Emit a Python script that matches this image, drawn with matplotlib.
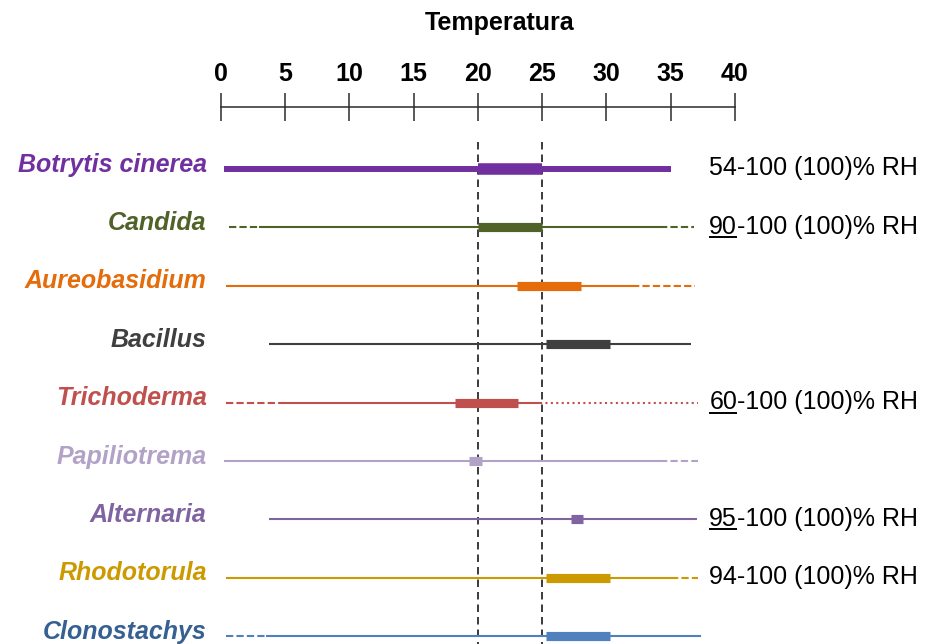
import matplotlib
matplotlib.use('Agg')
import matplotlib.pyplot as plt

plt.rcParams['font.family'] = ['Liberation Sans', 'DejaVu Sans']

# --- data ---
organisms = ['Botrytis cinerea', 'Candida', 'Aureobasidium', 'Bacillus', 'Trichoderma',
             'Papiliotrema', 'Alternaria', 'Rhodotorula', 'Clonostachys']
line_colors = ['#7030A0', '#4F6228', '#E46C0A', '#3F3F3F', '#C0504D',
               '#B3A2C7', '#8064A2', '#CC9A00', '#4F81BD']
label_colors = ['#7030A0', '#4F6228', '#E46C0A', '#3F3F3F', '#C0504D',
                '#B3A2C7', '#8064A2', '#CC9A00', '#376092']

# temperature range segments per organism (start, end, kind)
seg_start = [[0.27], [0.64, 2.98, 34.2], [0.4, 32.0], [3.7], [0.4, 5.0, 24.8],
             [0.27, 34.2], [3.7], [0.4, 35.0], [0.4, 3.5]]
seg_end = [[35.0], [2.98, 34.2, 36.8], [32.0, 36.9], [36.6], [5.0, 24.8, 37.15],
           [34.2, 37.15], [37.07], [35.0, 37.15], [3.5, 37.33]]
seg_kind = [['solid'], ['dashed', 'solid', 'dashed'], ['solid', 'dashed'], ['solid'],
            ['dashed', 'solid', 'dotted'], ['solid', 'dashed'], ['solid'],
            ['solid', 'dashed'], ['dashed', 'solid']]

# optimum temperature
opt_low = [20, 20, 23, 25.3, 18.2, 19.3, 27.2, 25.3, 25.3]
opt_high = [25, 25, 28, 30.3, 23.1, 20.3, 28.2, 30.3, 30.3]

# relative humidity
rh_min = [54, 90, None, None, 60, None, 95, 94, None]
rh_underlined = [False, True, False, False, True, False, True, False, False]

temp_ticks = [0, 5, 10, 15, 20, 25, 30, 35, 40]
band_edges = [20, 25]

# --- styles ---
dash_styles = {'solid': '-', 'dashed': (0, (3.5, 1.5)), 'dotted': (0, (1, 1.6))}
FS = 18

fig = plt.figure(figsize=(9.29, 6.44), dpi=100)
W, H = 929, 644
row_top, row_step = 169, 58.4
ax = fig.add_axes([221 / W, 0, 514 / W, 1])
ax.set_xlim(0, 40)
ax.set_ylim((H - row_top) / row_step, -row_top / row_step)

def row_of(px):
    return (px - row_top) / row_step

# top temperature axis
for s in ['left', 'right', 'bottom']:
    ax.spines[s].set_visible(False)
ax.spines['top'].set_position(('data', row_of(107)))
ax.spines['top'].set_linewidth(1.1)
ax.spines['top'].set_color('#2b2b2b')
ax.xaxis.tick_top()
ax.set_xticks(temp_ticks)
ax.set_xticklabels([str(t) for t in temp_ticks], fontweight='bold', fontsize=FS)
ax.tick_params(axis='x', direction='inout', length=20, width=1.1, color='#2b2b2b', pad=5)
ax.set_yticks([])
ax.text(21.7, row_of(30), 'Temperatura', ha='center', va='baseline',
        fontsize=FS, fontweight='bold')

# optimum band guide lines
ax.vlines(band_edges, row_of(142), row_of(H), colors='#1a1a1a',
          linestyles=[(0, (4.5, 3))], linewidth=1.2, zorder=1)

for i, name in enumerate(organisms):
    c = line_colors[i]
    lw = 4.3 if i == 0 else 1.5
    for s, e, k in zip(seg_start[i], seg_end[i], seg_kind[i]):
        ax.plot([s, e], [i, i], color=c, lw=lw, linestyle=dash_styles[k],
                solid_capstyle='butt', dash_capstyle='butt', zorder=2)
    ax.plot([opt_low[i], opt_high[i]], [i, i], color=c, lw=8.3 if i == 0 else 6.6,
            solid_capstyle='butt', zorder=3)
    ax.text(-1.11, i + 0.043, name, ha='right', va='baseline', fontsize=FS,
            fontstyle='italic', fontweight='bold', color=label_colors[i])

fig.canvas.draw()
renderer = fig.canvas.get_renderer()
for i, m in enumerate(rh_min):
    if m is None:
        continue
    y = i + 0.11
    if rh_underlined[i]:
        t1 = ax.text(38.0, y, str(m), ha='left', va='baseline', fontsize=FS)
        bb = t1.get_window_extent(renderer)
        x1 = ax.transData.inverted().transform((bb.x1, 0))[0]
        ax.plot([38.0, x1], [i + 0.17, i + 0.17], color='black', lw=1.4,
                solid_capstyle='butt', clip_on=False)
        ax.text(x1, y, '-100 (100)% RH', ha='left', va='baseline', fontsize=FS)
    else:
        ax.text(38.0, y, f'{m}-100 (100)% RH', ha='left', va='baseline', fontsize=FS)

for a in ax.get_children():
    if hasattr(a, 'set_clip_on'):
        a.set_clip_on(False)

fig.savefig('out.png', dpi=100)
